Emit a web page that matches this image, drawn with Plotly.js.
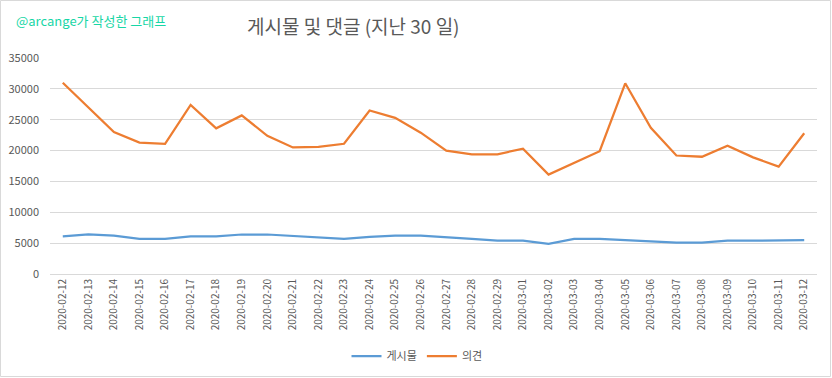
<!DOCTYPE html>
<html>
<head>
<meta charset="utf-8">
<script src="https://cdn.plot.ly/plotly-3.0.1.min.js"></script>
<style>
html,body{margin:0;padding:0;background:#fff;}
#chart{width:832px;height:378px;}
</style>
</head>
<body>
<div id="chart"></div>
<script>
const dates = ["2020-02-12","2020-02-13","2020-02-14","2020-02-15","2020-02-16","2020-02-17","2020-02-18","2020-02-19","2020-02-20","2020-02-21","2020-02-22","2020-02-23","2020-02-24","2020-02-25","2020-02-26","2020-02-27","2020-02-28","2020-02-29","2020-03-01","2020-03-02","2020-03-03","2020-03-04","2020-03-05","2020-03-06","2020-03-07","2020-03-08","2020-03-09","2020-03-10","2020-03-11","2020-03-12"];
const posts = [6100,6400,6200,5700,5700,6100,6100,6400,6400,6200,5900,5700,6000,6200,6200,6000,5700,5400,5400,4900,5700,5700,5500,5200,5100,5100,5400,5400,5400,5500];
const comments = [31000,27000,23000,21300,21100,27400,23600,25700,22400,20500,20600,21100,26500,25300,22900,20000,19400,19400,20300,16100,18000,19900,30900,23700,19200,19000,20800,18900,17400,22800];
const seriesNames = ["게시물","의견"];
const titleText = "게시물 및 댓글 (지난 30 일)";
const creditText = "@arcange가 작성한 그래프";

const FONT = "'Noto Sans CJK KR', 'Noto Sans', sans-serif";
const traces = [
  {x: dates, y: posts, name: seriesNames[0], type: "scatter", mode: "lines",
   line: {color: "#5B9BD5", width: 2.25}},
  {x: dates, y: comments, name: seriesNames[1], type: "scatter", mode: "lines",
   line: {color: "#ED7D31", width: 2.25}}
];
const layout = {
  width: 832, height: 378,
  margin: {l: 50, r: 15, t: 58, b: 104, autoexpand: false},
  paper_bgcolor: "#fff", plot_bgcolor: "#fff",
  font: {family: FONT, color: "#595959", size: 11},
  title: {text: titleText, xref: "container", yref: "container", x: 247/832, xanchor: "left",
          y: 1 - 27/378, yanchor: "middle", font: {family: FONT, size: 19, color: "#595959"}},
  xaxis: {type: "category", range: [-0.5, 29.5], tickangle: -90, showgrid: false,
          tickmode: "linear", dtick: 1, tick0: 0,
          showline: true, linecolor: "#d9d9d9", linewidth: 1, ticks: "",
          tickfont: {size: 10, color: "#595959"}, automargin: false},
  yaxis: {range: [0, 35000], dtick: 5000, tickformat: "d", gridcolor: "#d9d9d9", gridwidth: 1,
          zeroline: false, ticks: "", tickfont: {size: 11, color: "#595959"},
          ticklabelstandoff: 10, automargin: false},
  showlegend: true,
  legend: {orientation: "h", x: (417-50)/767, xanchor: "center",
           y: (274-356)/216, yanchor: "middle", font: {size: 11, color: "#595959"}},
  annotations: [{text: creditText, xref: "paper", yref: "paper",
                 x: (14-50)/767, xanchor: "left", y: (274-20)/216, yanchor: "middle",
                 showarrow: false, font: {family: FONT, size: 13, color: "#17d6a6"}}],
  shapes: [{type: "rect", xref: "paper", yref: "paper",
            x0: (0.5-50)/767, x1: (830.5-50)/767, y0: (274-376.5)/216, y1: (274-0.5)/216,
            line: {color: "#d9d9d9", width: 1}, fillcolor: "rgba(0,0,0,0)", layer: "below"}]
};
Plotly.newPlot("chart", traces, layout, {displayModeBar: false, staticPlot: true});
</script>
</body>
</html>
